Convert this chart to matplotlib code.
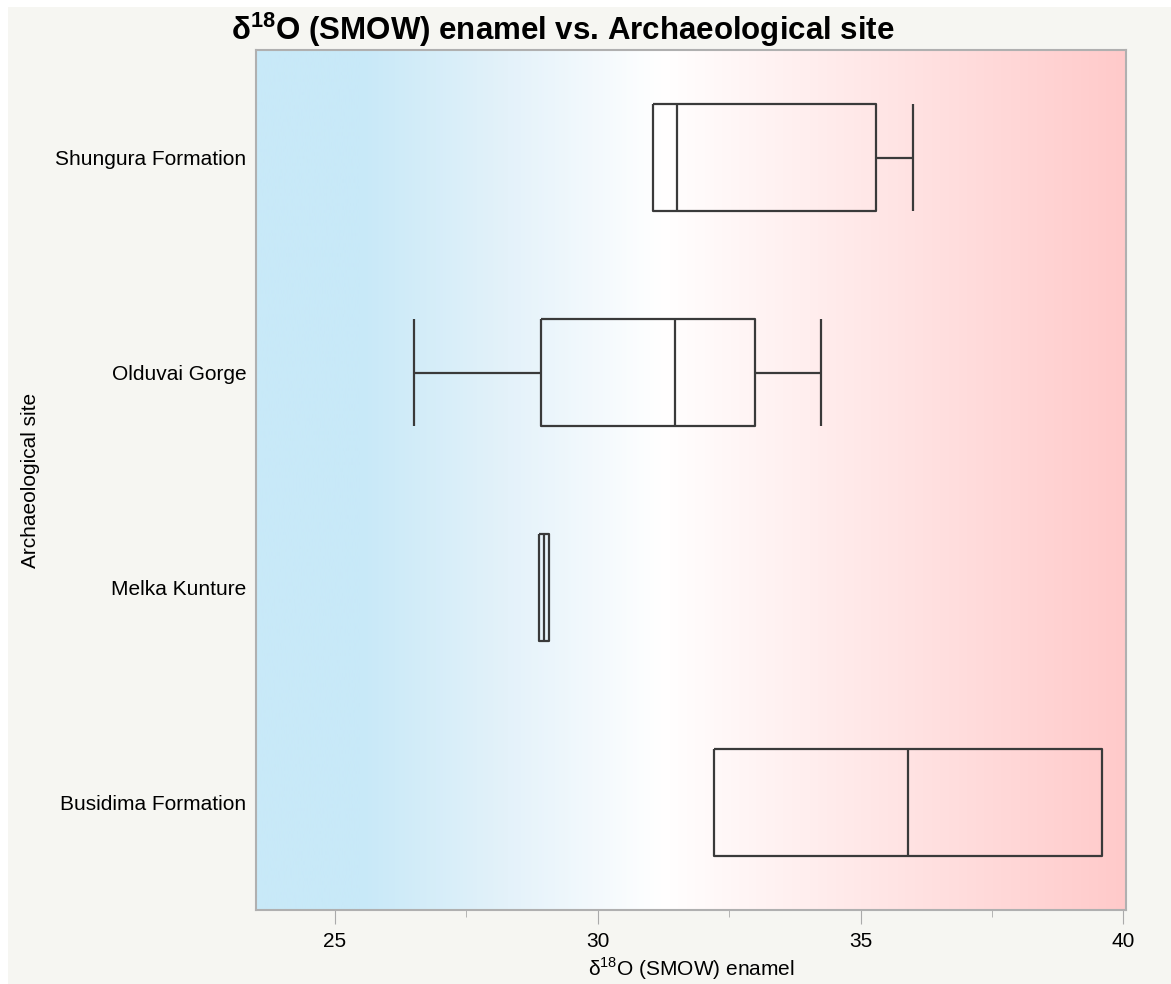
import numpy as np
import matplotlib
matplotlib.use("Agg")
import matplotlib.pyplot as plt
from matplotlib.colors import LinearSegmentedColormap
from matplotlib.patches import Rectangle
from matplotlib.ticker import MultipleLocator

plt.rcParams['font.family'] = ['Liberation Sans', 'DejaVu Sans']
plt.rcParams['mathtext.fontset'] = 'custom'
plt.rcParams['mathtext.rm'] = 'Liberation Sans'
plt.rcParams['mathtext.bf'] = 'Liberation Sans:bold'

# Five-number summaries per site (None = no whisker drawn)
sites = ["Shungura Formation", "Olduvai Gorge", "Melka Kunture", "Busidima Formation"]
whisker_low = [None, 26.5, None, None]
q1 = [31.05, 28.93, 28.88, 32.21]
median = [31.5, 31.47, 28.98, 35.9]
q3 = [35.29, 33.0, 29.08, 39.6]
whisker_high = [36.0, 34.24, None, None]

xlim = (23.5, 40.05)
xticks = [25, 30, 35, 40]

fig = plt.figure(figsize=(11.71, 9.84), dpi=100, facecolor='white')
fig.patches.append(Rectangle((8 / 1171, 0), 1, 1 - 7 / 984, transform=fig.transFigure,
                             facecolor='#f6f6f2', edgecolor='none', zorder=-10))

ax = fig.add_axes([256 / 1171, 1 - 910 / 984, 870 / 1171, 860 / 984])

# Horizontal blue-white-red background
span = xlim[1] - xlim[0]
stops = [(0.0, '#c8e9f8'), ((25.5 - xlim[0]) / span, '#c8e9f8'),
         ((28.3 - xlim[0]) / span, '#e4f2fa'),
         ((31.2 - xlim[0]) / span, '#ffffff'), (1.0, '#ffcaca')]
cmap = LinearSegmentedColormap.from_list('bg', stops)
grad = np.linspace(0, 1, 512).reshape(1, -1)
ax.imshow(grad, extent=[xlim[0], xlim[1], -0.5, len(sites) - 0.5], aspect='auto',
          cmap=cmap, zorder=0, interpolation='bilinear')

line_kw = dict(color='#3a3a3a', lw=1.6, zorder=3, solid_capstyle='butt')
half = 0.25
for i, name in enumerate(sites):
    y = i
    # box
    ax.plot([q1[i], q3[i], q3[i], q1[i], q1[i]],
            [y - half, y - half, y + half, y + half, y - half], **line_kw)
    ax.plot([median[i], median[i]], [y - half, y + half], **line_kw)
    if whisker_low[i] is not None:
        ax.plot([whisker_low[i], q1[i]], [y, y], **line_kw)
        ax.plot([whisker_low[i]] * 2, [y - half, y + half], **line_kw)
    if whisker_high[i] is not None:
        ax.plot([q3[i], whisker_high[i]], [y, y], **line_kw)
        ax.plot([whisker_high[i]] * 2, [y - half, y + half], **line_kw)

ax.set_xlim(*xlim)
ax.set_ylim(len(sites) - 0.5, -0.5)
ax.set_yticks(range(len(sites)))
ax.set_yticklabels(sites, fontsize=15)
ax.tick_params(axis='y', length=0, pad=7)
ax.set_xticks(xticks)
ax.set_xticklabels([str(t) for t in xticks], fontsize=15)
ax.xaxis.set_minor_locator(MultipleLocator(2.5))
ax.tick_params(axis='x', which='major', length=10, color='#aaaaaa', pad=6)
ax.tick_params(axis='x', which='minor', length=5, color='#aaaaaa')
for s in ax.spines.values():
    s.set_color('#b0b0b0')
    s.set_linewidth(1.5)

ax.set_xlabel(r'δ$^{\mathregular{18}}$O (SMOW) enamel', fontsize=15, labelpad=3)
ax.set_ylabel('Archaeological site', fontsize=15, labelpad=11)

fig.text(563 / 1171, 1 - 30 / 984, r'δ$^{\mathbf{18}}$O (SMOW) enamel vs. Archaeological site',
         ha='center', va='center', fontsize=22.5, fontweight='bold')

fig.savefig('out.png', dpi=100, facecolor=fig.get_facecolor())
